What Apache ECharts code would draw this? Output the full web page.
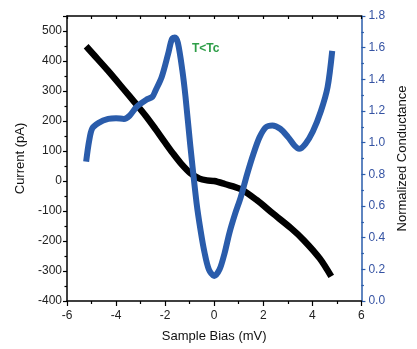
<!DOCTYPE html>
<html>
<head>
<meta charset="utf-8">
<script src="https://cdn.jsdelivr.net/npm/echarts@6/dist/echarts.min.js"></script>
<style>
  html, body { margin: 0; padding: 0; background: #fff; }
  #chart { width: 417px; height: 349px; }
</style>
</head>
<body>
<div id="chart"></div>
<script>
// current (black) vs bias
const biasI = [-5.22, -4.9, -4.32, -3.68, -3.24, -2.78, -2.4, -2.0, -1.68, -1.36, -0.98, -0.6, -0.3, 0, 0.43, 1.08, 1.74, 2.37, 3.14, 3.66, 4.3, 4.77]
const currentPA = [449, 420, 367, 305, 262, 216, 174, 128, 92, 59, 27, 8, 2, 0, -10, -27, -64, -107, -158, -198, -258, -318]

// normalized conductance (blue) vs bias
const biasG = [-5.22, -5.1, -4.97, -4.71, -4.32, -4.0, -3.68, -3.45, -3.17, -2.78, -2.52, -2.39, -2.14, -1.88, -1.72, -1.6, -1.48, -1.3, -1.17, -0.98, -0.72, -0.55, -0.4, -0.22, 0, 0.22, 0.42, 0.62, 0.85, 1.08, 1.34, 1.6, 1.85, 2.11, 2.37, 2.69, 3.01, 3.27, 3.46, 3.72, 4.02, 4.35, 4.62, 4.81]
const conductance = [0.88, 1.01, 1.09, 1.125, 1.15, 1.155, 1.15, 1.17, 1.225, 1.27, 1.29, 1.33, 1.415, 1.56, 1.655, 1.665, 1.63, 1.458, 1.29, 0.99, 0.62, 0.44, 0.31, 0.2, 0.158, 0.2, 0.3, 0.43, 0.55, 0.655, 0.8, 0.93, 1.035, 1.098, 1.109, 1.088, 1.035, 0.982, 0.961, 0.993, 1.07, 1.2, 1.35, 1.58]

const xTicks = { min: -6, max: 6, step: 2 }
const iTicks = { min: -400, max: 550, step: 100 }
const gTicks = { min: 0, max: 1.8, step: 0.2 }

const font = 'Liberation Sans, Arial, sans-serif'
const blue = '#2a5cab'

const chart = echarts.init(document.getElementById('chart'))

chart.setOption({
  animation: false,
  backgroundColor: '#fff',
  grid: { left: 67, right: 40, top: 16, bottom: 48 },
  xAxis: [
    {
      type: 'value',
      min: xTicks.min,
      max: xTicks.max,
      interval: xTicks.step,
      name: 'Sample Bias (mV)',
      nameLocation: 'middle',
      nameGap: 29,
      nameTextStyle: { fontFamily: font, fontSize: 13, color: '#111' },
      axisLine: { onZero: false, lineStyle: { color: '#000', width: 1.5 } },
      axisTick: { length: 5, lineStyle: { color: '#000', width: 1.2 } },
      minorTick: { show: true, splitNumber: 2, length: 3, lineStyle: { color: '#000', width: 1.2 } },
      axisLabel: { fontFamily: font, fontSize: 12, color: '#222', margin: 9 },
      splitLine: { show: false }
    },
    {
      type: 'value',
      position: 'top',
      min: xTicks.min,
      max: xTicks.max,
      interval: 1,
      axisLine: { onZero: false, lineStyle: { color: '#000', width: 1.5 } },
      axisTick: { inside: true, length: 3, lineStyle: { color: '#000', width: 1.2 } },
      axisLabel: { show: false },
      splitLine: { show: false }
    }
  ],
  yAxis: [
    {
      type: 'value',
      position: 'left',
      min: iTicks.min,
      max: iTicks.max,
      interval: iTicks.step,
      name: 'Current (pA)',
      nameLocation: 'middle',
      nameRotate: 90,
      nameGap: 37,
      nameTextStyle: { fontFamily: font, fontSize: 13, color: '#111' },
      axisLine: { show: true, onZero: false, lineStyle: { color: '#000', width: 1.5 } },
      axisTick: { length: 4, lineStyle: { color: '#000', width: 1.2 } },
      minorTick: { show: true, splitNumber: 2, length: 2.5, lineStyle: { color: '#000', width: 1.2 } },
      axisLabel: { fontFamily: font, fontSize: 12, color: '#222', margin: 5, showMaxLabel: false },
      splitLine: { show: false }
    },
    {
      type: 'value',
      position: 'right',
      min: gTicks.min,
      max: gTicks.max,
      interval: gTicks.step,
      name: 'Normalized Conductance',
      nameLocation: 'middle',
      nameRotate: 90,
      nameGap: 26,
      nameTextStyle: { fontFamily: font, fontSize: 13, color: '#111' },
      axisLine: { show: true, onZero: false, lineStyle: { color: blue, width: 1.5 } },
      axisTick: { length: 4, lineStyle: { color: blue, width: 1.2 } },
      minorTick: { show: true, splitNumber: 2, length: 2.5, lineStyle: { color: blue, width: 1.2 } },
      axisLabel: {
        fontFamily: font, fontSize: 12, color: '#3553a3', margin: 7,
        formatter: v => v.toFixed(1)
      },
      splitLine: { show: false }
    }
  ],
  series: [
    {
      type: 'line',
      xAxisIndex: 0,
      yAxisIndex: 0,
      data: biasI.map((x, i) => [x, currentPA[i]]),
      showSymbol: false,
      smooth: 0.3,
      lineStyle: { color: '#000', width: 6.5 },
      z: 2
    },
    {
      type: 'line',
      xAxisIndex: 0,
      yAxisIndex: 1,
      data: biasG.map((x, i) => [x, conductance[i]]),
      showSymbol: false,
      smooth: 0.3,
      lineStyle: { color: blue, width: 6 },
      z: 3
    }
  ],
  graphic: [
    {
      type: 'text',
      left: 192,
      top: 43,
      style: { text: 'T<Tc', fill: '#2e9e48', font: 'bold 12px ' + font }
    }
  ]
})
</script>
</body>
</html>
